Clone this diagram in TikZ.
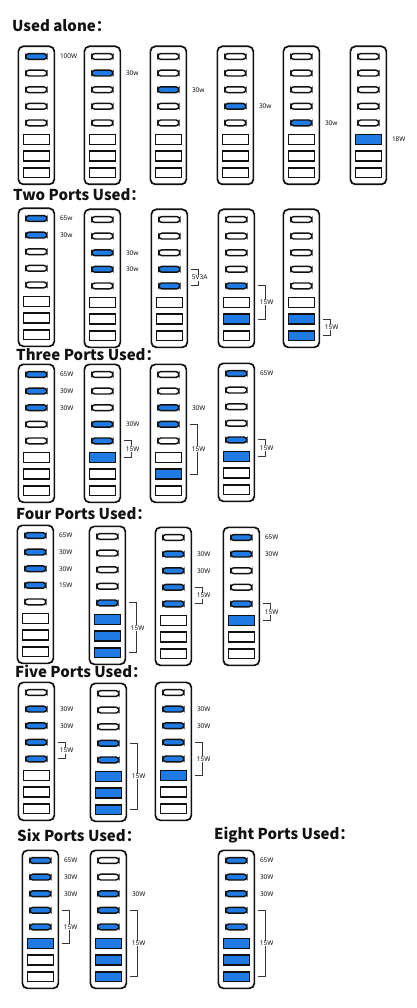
\documentclass[tikz,border=0pt]{standalone}
\usepackage{fontspec}
\setmainfont{Noto Sans}
\newfontfamily\titlefont{Noto Sans CJK SC}
\usetikzlibrary{calc}
\definecolor{portblue}{HTML}{1F7BE3}
\definecolor{ink}{HTML}{111111}
\tikzset{
 devbox/.style={draw=ink, line width=1.7pt, rounded corners=5pt, minimum width=36pt, minimum height=138pt, inner sep=0pt, fill=white},
 usbc/.style={draw=ink, line width=1.45pt, rounded corners=3pt, minimum width=21pt, minimum height=5.8pt, inner sep=0pt},
 usba/.style={draw=ink, line width=1.45pt, minimum width=26pt, minimum height=9.8pt, inner sep=0pt},
 plab/.style={font=\fontsize{6.5}{7}\selectfont, text=ink, inner sep=0.6pt},
 brk/.style={draw=ink!85, line width=1.1pt},
 ttl/.style={font=\titlefont\bfseries\fontsize{15}{18}\selectfont, anchor=base west, inner sep=0pt, text=ink},
}
\makeatletter
\newcommand\chargerdev[4]{%
  \node[devbox, anchor=north west] (#1) at (#2,#3) {};
  \foreach \i in {1,...,8}{%
    \edef\tmpin{\noexpand\in@{,\i,}{,#4,}}\tmpin
    \ifin@\def\portfill{portblue}\else\def\portfill{white}\fi
    \ifnum\i<6
      \node[usbc, fill=\portfill] (#1p\i) at ($(#1.north)+(0,11+16.6*\i-16.6)$) {};
    \else
      \node[usba, fill=\portfill] (#1p\i) at ($(#1.north)+(0,11+16.6*\i-16.6)$) {};
    \fi
  }%
}
\makeatother
\newcommand\plabel[3]{\node[plab, anchor=west] (#1l#2) at ($(#1.east |- #1p#2)+(4,0)$) {#3};}
\newcommand\brkt[4]{%
  \coordinate (#1bt) at ($(#1.east |- #1p#2)+(3,0)$);
  \coordinate (#1bb) at ($(#1.east |- #1p#3)+(3,0)$);
  \draw[brk] (#1bt) -- ++(7,0) -- ($(#1bb)+(7,0)$) -- (#1bb);
  \node[plab, fill=white] (#1bl) at ($(#1bt)!0.5!(#1bb)+(8.5,0)$) {#4};
}
\begin{document}
\begin{tikzpicture}[x=1pt,y=-1pt]
\useasboundingbox[fill=white] (0,0) rectangle (416,1008);

% Titles
\node[ttl] (t1) at (12,31.7) {Used alone：};
\node[ttl] (t2) at (13,201) {Two Ports Used：};
\node[ttl] (t3) at (16,360.7) {Three Ports Used：};
\node[ttl] (t4) at (16,519.3) {Four Ports Used：};
\node[ttl] (t5) at (15,677.7) {Five Ports Used：};
\node[ttl] (t6) at (17,841) {Six Ports Used：};
\node[ttl] (t8) at (214,839.3) {Eight Ports Used：};

% Row 1
\chargerdev{a}{17.5}{45.5}{1}   \plabel{a}{1}{100W}
\chargerdev{b}{83.5}{45.5}{2}   \plabel{b}{2}{30w}
\chargerdev{c}{149.5}{45.5}{3}  \plabel{c}{3}{30w}
\chargerdev{d}{216.5}{45.5}{4}  \plabel{d}{4}{30w}
\chargerdev{e}{282.5}{45.5}{5}  \plabel{e}{5}{30w}
\chargerdev{f}{349.5}{45.5}{6}  \plabel{f}{6}{18W}

% Row 2
\chargerdev{g}{17.5}{207.5}{1,2}  \plabel{g}{1}{65w} \plabel{g}{2}{30w}
\chargerdev{h}{83.5}{208.5}{3,4}  \plabel{h}{3}{30w} \plabel{h}{4}{30w}
\chargerdev{i}{150.5}{208.5}{4,5} \brkt{i}{4}{5}{5V3A}
\chargerdev{j}{217.5}{208.5}{5,7} \brkt{j}{5}{7}{15W}
\chargerdev{k}{282.5}{208.5}{7,8} \brkt{k}{7}{8}{15W}

% Row 3
\chargerdev{l}{17.5}{363.5}{1,2,3}  \plabel{l}{1}{65W} \plabel{l}{2}{30W} \plabel{l}{3}{30W}
\chargerdev{m}{83.5}{363.5}{4,5,6}  \plabel{m}{4}{30W} \brkt{m}{5}{6}{15W}
\chargerdev{n}{149.5}{363.5}{3,4,7} \plabel{n}{3}{30W} \brkt{n}{4}{7}{15W}
\chargerdev{o}{217.5}{362.5}{1,5,6} \plabel{o}{1}{65W} \brkt{o}{5}{6}{15W}

% Row 4
\chargerdev{q}{16.5}{524.5}{1,2,3,4} \plabel{q}{1}{65W} \plabel{q}{2}{30W} \plabel{q}{3}{30W} \plabel{q}{4}{15W}
\chargerdev{r}{88.5}{525.5}{5,6,7,8} \brkt{r}{5}{8}{15W}
\chargerdev{s}{154.5}{526.5}{2,3,4,5} \plabel{s}{2}{30W} \plabel{s}{3}{30W} \brkt{s}{4}{5}{15W}
\chargerdev{u}{222.5}{526.5}{1,2,5,6} \plabel{u}{1}{65W} \plabel{u}{2}{30W} \brkt{u}{5}{6}{15W}

% Row 5
\chargerdev{v}{17.5}{681.5}{2,3,4,5} \plabel{v}{2}{30W} \plabel{v}{3}{30W} \brkt{v}{4}{5}{15W}
\chargerdev{w}{89.5}{682.5}{4,5,6,7,8} \brkt{w}{4}{8}{15W}
\chargerdev{x}{154.5}{681.5}{2,3,4,5,6} \plabel{x}{2}{30W} \plabel{x}{3}{30W} \brkt{x}{4}{6}{15W}

% Row 6
\chargerdev{y}{21.5}{849.5}{1,2,3,4,5,6} \plabel{y}{1}{65W} \plabel{y}{2}{30W} \plabel{y}{3}{30W} \brkt{y}{4}{6}{15W}
\chargerdev{z}{89.5}{849.5}{3,4,5,6,7,8} \plabel{z}{3}{30W} \brkt{z}{4}{8}{15W}
\chargerdev{ee}{217.5}{849.5}{1,2,3,4,5,6,7,8} \plabel{ee}{1}{65W} \plabel{ee}{2}{30W} \plabel{ee}{3}{30W} \brkt{ee}{4}{8}{15W}
\end{tikzpicture}
\end{document}
